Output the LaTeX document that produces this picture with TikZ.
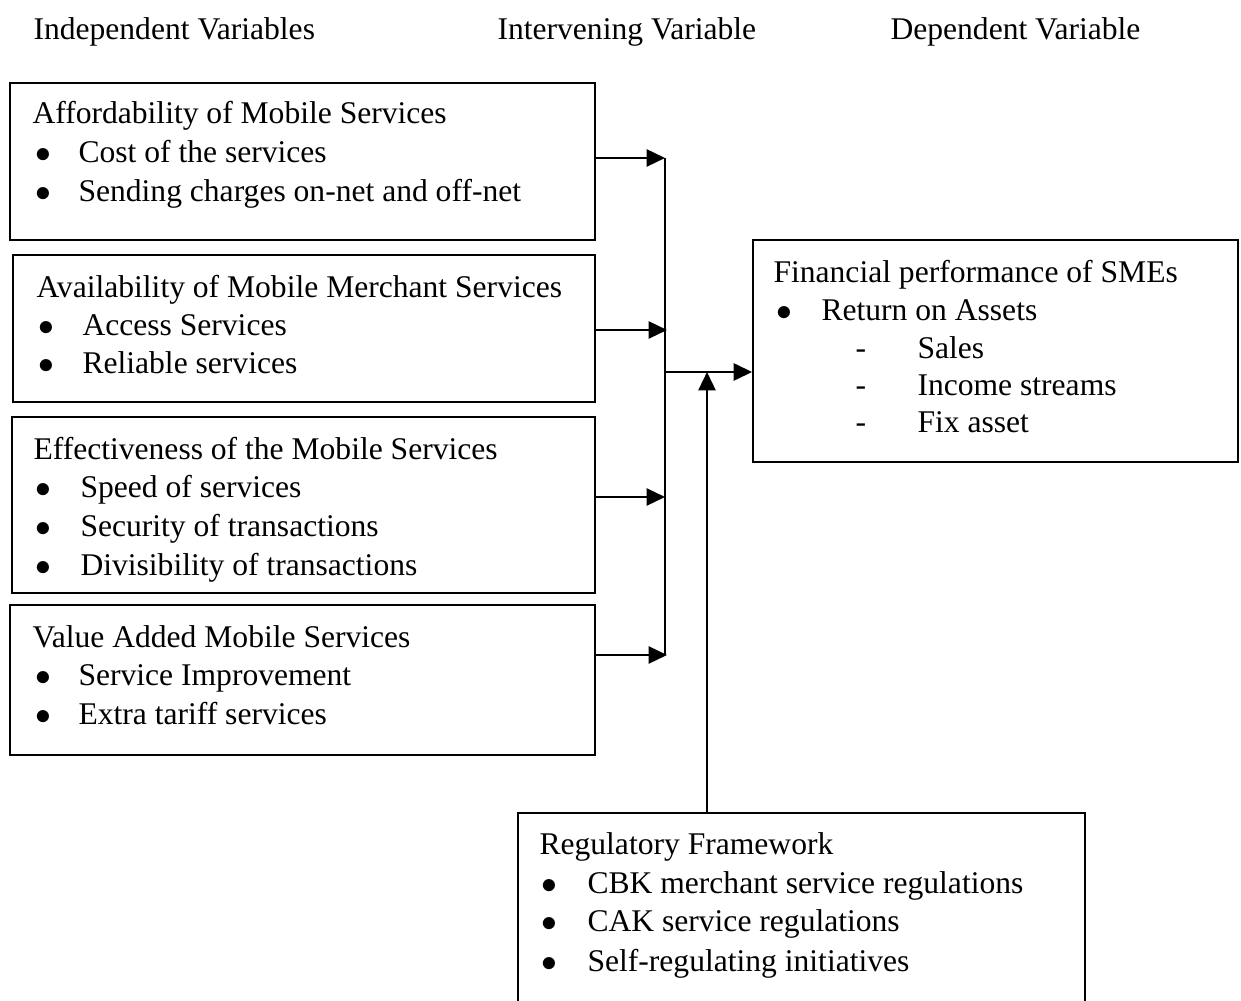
\documentclass[tikz,border=0pt]{standalone}
\usepackage{fontspec}
\setmainfont{Liberation Serif}
\usetikzlibrary{positioning,fit,arrows.meta}

\begin{document}
\begin{tikzpicture}[x=0.38pt,y=-0.38pt,
    box/.style={draw,line width=0.7pt,inner sep=0pt,fit={#1}},
    txt/.style={anchor=base west,inner sep=0pt,yshift=-0.8pt,font=\fontsize{12}{14}\selectfont},
    link/.style={line width=0.9pt},
    arr/.style={link,-{Triangle[length=7pt,width=6.5pt]}}]
    \useasboundingbox (0,0) rectangle (1241,1001);
    \clip (0,0) rectangle (1241,1001);

    % Headings
    \node[txt] (hind) at (33,37) {Independent Variables};
    \node[txt] (hint) at (497,37) {Intervening Variable};
    \node[txt] (hdep) at (890,37) {Dependent Variable};

    % Affordability
    \node[box={(10,83) (595,240)}] (afford) {};
    \node[txt] (afford0) at (32,121) {Affordability of Mobile Services};
    \node[txt] (afford1b) at (35,160) {$\bullet$};
    \node[txt] (afford1) at (78,160) {Cost of the services};
    \node[txt] (afford2b) at (35,199) {$\bullet$};
    \node[txt] (afford2) at (78,199) {Sending charges on-net and off-net};

    % Availability
    \node[box={(13,255) (595,402)}] (avail) {};
    \node[txt] (avail0) at (36,295) {Availability of Mobile Merchant Services};
    \node[txt] (avail1b) at (38,333) {$\bullet$};
    \node[txt] (avail1) at (82,333) {Access Services};
    \node[txt] (avail2b) at (38,371) {$\bullet$};
    \node[txt] (avail2) at (82,371) {Reliable services};

    % Effectiveness
    \node[box={(12,417) (595,593)}] (effect) {};
    \node[txt] (effect0) at (33,457) {Effectiveness of the Mobile Services};
    \node[txt] (effect1b) at (35,495) {$\bullet$};
    \node[txt] (effect1) at (80,495) {Speed of services};
    \node[txt] (effect2b) at (35,534) {$\bullet$};
    \node[txt] (effect2) at (80,534) {Security of transactions};
    \node[txt] (effect3b) at (35,573) {$\bullet$};
    \node[txt] (effect3) at (80,573) {Divisibility of transactions};

    % Value added
    \node[box={(10,605) (595,755)}] (value) {};
    \node[txt] (value0) at (32,645) {Value Added Mobile Services};
    \node[txt] (value1b) at (35,683) {$\bullet$};
    \node[txt] (value1) at (78,683) {Service Improvement};
    \node[txt] (value2b) at (35,722) {$\bullet$};
    \node[txt] (value2) at (78,722) {Extra tariff services};

    % Financial performance
    \node[box={(753,240) (1238,462)}] (finance) {};
    \node[txt] (finance0) at (773,280) {Financial performance of SMEs};
    \node[txt] (finance1b) at (776,318) {$\bullet$};
    \node[txt] (finance1) at (821,318) {Return on Assets};
    \node[txt] (finance2d) at (855,356) {-};
    \node[txt] (finance2) at (917,356) {Sales};
    \node[txt] (finance3d) at (855,393) {-};
    \node[txt] (finance3) at (917,393) {Income streams};
    \node[txt] (finance4d) at (855,430) {-};
    \node[txt] (finance4) at (917,430) {Fix asset};

    % Regulatory framework
    \node[box={(518,813) (1085,1020)}] (regul) {};
    \node[txt] (regul0) at (539,852) {Regulatory Framework};
    \node[txt] (regul1b) at (541,891) {$\bullet$};
    \node[txt] (regul1) at (587,891) {CBK merchant service regulations};
    \node[txt] (regul2b) at (541,929) {$\bullet$};
    \node[txt] (regul2) at (587,929) {CAK service regulations};
    \node[txt] (regul3b) at (541,969) {$\bullet$};
    \node[txt] (regul3) at (587,969) {Self-regulating initiatives};

    % Connectors
    \coordinate (c1) at (665,158);
    \coordinate (c2) at (667,330);
    \coordinate (c3) at (665,497);
    \coordinate (c4) at (667,655);
    \coordinate (jn) at (665,372);
    \coordinate (jr) at (707,372);
    \draw[link] (665,158) -- (665,655);
    \draw[arr] (afford.east |- c1) -- (c1);
    \draw[arr] (avail.east |- c2) -- (c2);
    \draw[arr] (effect.east |- c3) -- (c3);
    \draw[arr] (value.east |- c4) -- (c4);
    \draw[arr] (jn) -- (finance.west |- jn);
    \draw[arr] (regul.north -| jr) -- (jr);
\end{tikzpicture}
\end{document}
